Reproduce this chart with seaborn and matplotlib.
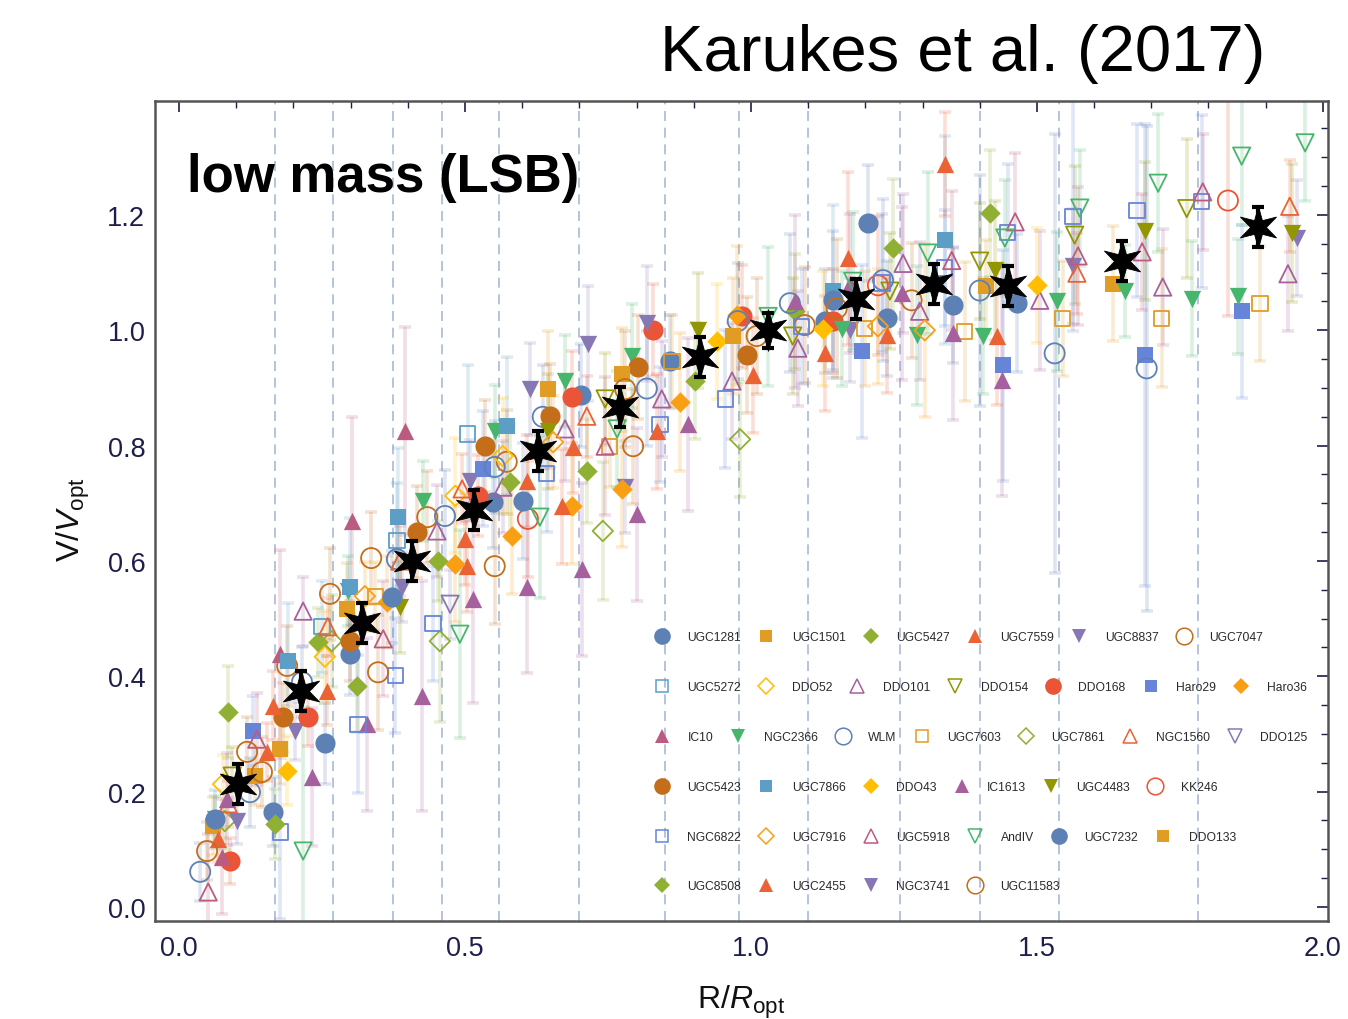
import numpy as np
import pandas as pd
import matplotlib
matplotlib.use("Agg")
import matplotlib.pyplot as plt
import seaborn as sns
from matplotlib.path import Path
from matplotlib.lines import Line2D
from matplotlib.ticker import MultipleLocator

# ---------------- data (R/Ropt, V/Vopt, error) ----------------
r_UGC1281 = [0.164, 0.299, 0.549, 0.703, 0.858, 1.129, 1.238, 1.353, 1.465]
v_UGC1281 = [0.165, 0.438, 0.702, 0.887, 0.946, 1.016, 1.021, 1.043, 1.047]
e_UGC1281 = [0.06, 0.07, 0.08, 0.09, 0.08, 0.09, 0.10, 0.10, 0.12]

r_UGC1501 = [0.059, 0.177, 0.294, 0.645, 1.411, 1.633]
v_UGC1501 = [0.140, 0.274, 0.517, 0.898, 1.076, 1.081]
e_UGC1501 = [0.05, 0.06, 0.08, 0.10, 0.08, 0.10]

r_UGC5427 = [0.086, 0.243, 0.453, 0.713, 0.902, 1.077, 1.248, 1.418]
v_UGC5427 = [0.338, 0.459, 0.600, 0.756, 0.912, 1.033, 1.142, 1.203]
e_UGC5427 = [0.08, 0.06, 0.07, 0.09, 0.10, 0.10, 0.12, 0.11]

r_UGC7559 = [0.068, 0.259, 0.503, 0.689, 1.003, 1.238, 1.430]
v_UGC7559 = [0.118, 0.375, 0.591, 0.798, 0.922, 0.991, 0.990]
e_UGC7559 = [0.04, 0.06, 0.08, 0.08, 0.10, 0.10, 0.12]

r_UGC8837 = [0.203, 0.509, 0.780, 1.173, 1.563, 1.955]
v_UGC8837 = [0.305, 0.739, 0.728, 1.000, 1.111, 1.160]
e_UGC8837 = [0.05, 0.07, 0.08, 0.09, 0.10, 0.10]

r_UGC7047 = [0.119, 0.189, 0.336, 0.434, 0.573, 0.794, 1.094, 1.281]
v_UGC7047 = [0.269, 0.418, 0.605, 0.676, 0.772, 0.799, 1.009, 1.052]
e_UGC7047 = [0.06, 0.07, 0.08, 0.08, 0.09, 0.10, 0.10, 0.10]

r_UGC5272 = [0.250, 0.381, 0.505]
v_UGC5272 = [0.486, 0.635, 0.820]
e_UGC5272 = [0.08, 0.10, 0.12]

r_DDO52 = [0.077, 0.255, 0.483, 0.566]
v_DDO52 = [0.213, 0.434, 0.713, 0.782]
e_DDO52 = [0.05, 0.08, 0.10, 0.10]

r_DDO101 = [0.217, 0.451, 0.566, 0.675, 0.844, 0.967, 1.082, 1.266, 1.295, 1.505, 1.720, 1.939]
v_DDO101 = [0.513, 0.652, 0.728, 0.829, 0.881, 0.912, 0.969, 1.116, 1.033, 1.052, 1.075, 1.098]
e_DDO101 = [0.06, 0.08, 0.08, 0.09, 0.10, 0.10, 0.10, 0.12, 0.12, 0.12, 0.10, 0.10]

r_DDO154 = [0.093, 0.745, 1.073, 1.243, 1.400, 1.566, 1.762]
v_DDO154 = [0.227, 0.881, 0.990, 1.068, 1.120, 1.165, 1.211]
e_DDO154 = [0.05, 0.08, 0.10, 0.10, 0.10, 0.12, 0.12]

r_DDO168 = [0.089, 0.226, 0.523, 0.687, 0.829, 0.984, 1.143]
v_DDO168 = [0.080, 0.329, 0.713, 0.884, 1.000, 1.024, 1.016]
e_DDO168 = [0.04, 0.05, 0.07, 0.08, 0.08, 0.09, 0.09]

r_Haro29 = [0.129, 0.531, 1.194, 1.441, 1.689, 1.858]
v_Haro29 = [0.305, 0.760, 0.964, 0.939, 0.957, 1.033]
e_Haro29 = [0.06, 0.10, 0.15, 0.20, 0.40, 0.15]

r_Haro36 = [0.364, 0.483, 0.582, 0.687, 0.774, 0.876, 0.976]
v_Haro36 = [0.529, 0.595, 0.643, 0.695, 0.725, 0.876, 1.026]
e_Haro36 = [0.08, 0.10, 0.10, 0.10, 0.10, 0.12, 0.12]

r_IC10 = [0.075, 0.177, 0.302, 0.395]
v_IC10 = [0.087, 0.439, 0.669, 0.825]
e_IC10 = [0.10, 0.18, 0.18, 0.18]

r_NGC2366 = [0.063, 0.295, 0.427, 0.552, 0.675, 0.792, 1.159, 1.290, 1.406, 1.535, 1.654, 1.771, 1.851]
v_NGC2366 = [0.153, 0.548, 0.704, 0.825, 0.912, 0.955, 1.003, 0.991, 0.990, 1.050, 1.068, 1.055, 1.059]
e_NGC2366 = [0.04, 0.06, 0.07, 0.08, 0.08, 0.09, 0.10, 0.12, 0.10, 0.12, 0.08, 0.10, 0.10]

r_WLM = [0.037, 0.124, 0.215, 0.381, 0.465, 0.552, 0.636, 0.818, 0.977, 1.068, 1.231, 1.400, 1.531, 1.692]
v_WLM = [0.061, 0.199, 0.390, 0.603, 0.678, 0.763, 0.850, 0.899, 1.016, 1.047, 1.087, 1.069, 0.960, 0.934]
e_WLM = [0.05, 0.06, 0.06, 0.07, 0.08, 0.08, 0.09, 0.10, 0.10, 0.12, 0.14, 0.20, 0.38, 0.42]

r_UGC7603 = [0.343, 0.753, 0.862, 1.199, 1.374, 1.545, 1.718, 1.890]
v_UGC7603 = [0.539, 0.798, 0.946, 1.003, 0.998, 1.021, 1.021, 1.047]
e_UGC7603 = [0.06, 0.07, 0.08, 0.10, 0.12, 0.10, 0.12, 0.10]

r_UGC7861 = [0.080, 0.267, 0.456, 0.741, 0.981]
v_UGC7861 = [0.149, 0.461, 0.461, 0.652, 0.811]
e_UGC7861 = [0.05, 0.08, 0.14, 0.12, 0.10]

r_NGC1560 = [0.086, 0.260, 0.386, 0.495, 0.713, 1.570, 1.942]
v_NGC1560 = [0.179, 0.486, 0.600, 0.725, 0.851, 1.099, 1.215]
e_NGC1560 = [0.04, 0.05, 0.06, 0.06, 0.07, 0.07, 0.08]

r_DDO125 = [0.474]
v_DDO125 = [0.525]
e_DDO125 = [0.06]

r_UGC5423 = [0.182, 0.299, 0.416, 0.535, 0.649, 0.802, 0.993]
v_UGC5423 = [0.329, 0.461, 0.650, 0.799, 0.851, 0.937, 0.957]
e_UGC5423 = [0.06, 0.07, 0.08, 0.08, 0.09, 0.09, 0.10]

r_UGC7866 = [0.191, 0.299, 0.383, 0.573, 1.143, 1.339]
v_UGC7866 = [0.427, 0.555, 0.676, 0.834, 1.068, 1.157]
e_UGC7866 = [0.10, 0.12, 0.12, 0.12, 0.15, 0.18]

r_DDO43 = [0.189, 0.941, 1.126, 1.500]
v_DDO43 = [0.236, 0.981, 1.003, 1.078]
e_DDO43 = [0.06, 0.10, 0.10, 0.10]

r_IC1613 = [0.084, 0.233, 0.329, 0.425, 0.514, 0.608, 0.705, 0.800, 0.890, 1.077, 1.173, 1.264, 1.353, 1.439]
v_IC1613 = [0.187, 0.225, 0.317, 0.366, 0.534, 0.555, 0.586, 0.681, 0.837, 1.050, 1.081, 1.064, 0.995, 0.913]
e_IC1613 = [0.08, 0.12, 0.15, 0.20, 0.18, 0.15, 0.15, 0.15, 0.15, 0.15, 0.12, 0.15, 0.15, 0.20]

r_UGC4483 = [0.386, 0.645, 0.907, 1.427, 1.689, 1.946]
v_UGC4483 = [0.520, 0.825, 1.000, 1.104, 1.172, 1.169]
e_UGC4483 = [0.08, 0.10, 0.10, 0.12, 0.12, 0.12]

r_KK246 = [0.610, 1.222, 1.834]
v_KK246 = [0.673, 1.078, 1.225]
e_KK246 = [0.10, 0.12, 0.20]

r_NGC6822 = [0.177, 0.313, 0.378, 0.444, 0.643, 0.841, 0.955, 1.089, 1.229, 1.339, 1.449, 1.563, 1.675, 1.788]
v_NGC6822 = [0.130, 0.317, 0.401, 0.491, 0.751, 0.837, 0.881, 1.007, 1.082, 1.108, 1.169, 1.198, 1.208, 1.224]
e_NGC6822 = [0.15, 0.12, 0.10, 0.10, 0.10, 0.10, 0.12, 0.10, 0.12, 0.10, 0.12, 0.20, 0.15, 0.15]

r_UGC7916 = [0.325, 0.654, 1.222, 1.304]
v_UGC7916 = [0.539, 0.806, 1.007, 1.000]
e_UGC7916 = [0.06, 0.08, 0.10, 0.15]

r_UGC5918 = [0.051, 0.136, 0.357, 0.745, 1.351, 1.462, 1.572, 1.684, 1.790]
v_UGC5918 = [0.026, 0.291, 0.465, 0.799, 1.121, 1.188, 1.129, 1.136, 1.240]
e_UGC5918 = [0.10, 0.08, 0.10, 0.12, 0.12, 0.12, 0.12, 0.10, 0.10]

r_AndIV = [0.217, 0.491, 0.631, 0.766, 1.030, 1.178, 1.309, 1.444, 1.575, 1.712, 1.858, 1.969]
v_AndIV = [0.097, 0.473, 0.676, 0.829, 1.024, 1.085, 1.134, 1.160, 1.212, 1.255, 1.302, 1.325]
e_AndIV = [0.25, 0.18, 0.14, 0.10, 0.12, 0.12, 0.14, 0.10, 0.10, 0.12, 0.12, 0.10]

r_UGC7232 = [0.063, 0.255, 0.372, 0.601, 1.143, 1.205]
v_UGC7232 = [0.153, 0.284, 0.538, 0.704, 1.052, 1.186]
e_UGC7232 = [0.05, 0.07, 0.08, 0.10, 0.12, 0.10]

r_DDO133 = [0.133, 0.774, 0.969]
v_DDO133 = [0.227, 0.924, 0.990]
e_DDO133 = [0.05, 0.08, 0.10]

r_UGC8508 = [0.168, 0.311, 0.579]
v_UGC8508 = [0.144, 0.383, 0.737]
e_UGC8508 = [0.06, 0.08, 0.10]

r_UGC2455 = [0.154, 0.164, 0.500, 0.608, 0.670, 0.836, 1.129, 1.170, 1.339]
v_UGC2455 = [0.269, 0.349, 0.638, 0.739, 0.695, 0.825, 0.960, 1.125, 1.288]
e_UGC2455 = [0.05, 0.06, 0.08, 0.08, 0.10, 0.10, 0.10, 0.15, 0.09]

r_NGC3741 = [0.101, 0.390, 0.614, 0.715, 0.818]
v_NGC3741 = [0.149, 0.555, 0.898, 0.977, 1.012]
e_NGC3741 = [0.04, 0.06, 0.08, 0.10, 0.10]

r_UGC11583 = [0.049, 0.145, 0.264, 0.348, 0.552, 0.780, 1.010, 1.150]
v_UGC11583 = [0.097, 0.234, 0.543, 0.407, 0.591, 0.898, 0.990, 1.038]
e_UGC11583 = [0.05, 0.06, 0.08, 0.10, 0.10, 0.10, 0.10, 0.12]

# binned average (black stars)
star_r = [0.103, 0.213, 0.320, 0.407, 0.516, 0.628, 0.771, 0.911, 1.030, 1.184, 1.320, 1.449, 1.649, 1.886]
star_v = [0.213, 0.375, 0.492, 0.600, 0.688, 0.791, 0.867, 0.954, 1.000, 1.054, 1.080, 1.077, 1.120, 1.179]
star_e = [0.035, 0.035, 0.035, 0.035, 0.035, 0.035, 0.035, 0.035, 0.030, 0.035, 0.035, 0.035, 0.035, 0.035]

# bin edges (dashed lines)
bin_edges = [0.168, 0.269, 0.374, 0.460, 0.559, 0.699, 0.850, 0.979, 1.100, 1.260, 1.400, 1.538, 1.781]

galaxies = ["UGC1281", "UGC1501", "UGC5427", "UGC7559", "UGC8837", "UGC7047",
            "UGC5272", "DDO52", "DDO101", "DDO154", "DDO168", "Haro29", "Haro36",
            "IC10", "NGC2366", "WLM", "UGC7603", "UGC7861", "NGC1560", "DDO125",
            "UGC5423", "UGC7866", "DDO43", "IC1613", "UGC4483", "KK246",
            "NGC6822", "UGC7916", "UGC5918", "AndIV", "UGC7232", "DDO133",
            "UGC8508", "UGC2455", "NGC3741", "UGC11583"]

x_ticks = [0.0, 0.5, 1.0, 1.5, 2.0]
x_tick_labels = ["0.0", "0.5", "1.0", "1.5", "2.0"]
y_ticks = [0.0, 0.2, 0.4, 0.6, 0.8, 1.0, 1.2]
y_tick_labels = ["0.0", "0.2", "0.4", "0.6", "0.8", "1.0", "1.2"]

# ---------------- build table ----------------
g = globals()
rows = []
for name in galaxies:
    for rr, vv, ee in zip(g["r_" + name], g["v_" + name], g["e_" + name]):
        rows.append((name, rr, vv, ee))
df = pd.DataFrame(rows, columns=["galaxy", "r", "v", "err"])

# ---------------- styles ----------------
palette15 = ["#5E81B5", "#E19C24", "#8FB032", "#EB6235", "#8778B3", "#C56E1A",
             "#5D9EC7", "#FFBF00", "#A5609D", "#929600", "#E95536", "#6685D9",
             "#F89F13", "#BC5B80", "#47B66D"]
shapes = ["o", "s", "D", "^", "v"]
scatter_size = {"o": 210, "s": 120, "D": 108, "^": 155, "v": 155}
legend_ms = {"o": 12, "s": 8.3, "D": 8.3, "^": 10, "v": 10}

sns.set_theme(style="white")
plt.rcParams["font.family"] = ["Liberation Sans", "DejaVu Sans"]
plt.rcParams["mathtext.fontset"] = "custom"
plt.rcParams["mathtext.rm"] = "Liberation Sans"
plt.rcParams["mathtext.it"] = "Liberation Sans:italic"
plt.rcParams["mathtext.bf"] = "Liberation Sans:bold"

fig = plt.figure(figsize=(13.48, 10.20), dpi=100)
ax = fig.add_axes([155 / 1348, 1 - 922 / 1020, (1328 - 155) / 1348, (922 - 102) / 1020])
ax.set_xlim(-0.042, 2.009)
ax.set_ylim(-0.0243, 1.3976)

for xe in bin_edges:
    ax.axvline(xe, color="#A9B9D8", lw=1.2, ls=(0, (6, 4)), zorder=0.5)

styles = {}
for i, name in enumerate(galaxies):
    styles[name] = (palette15[i % 15], shapes[i % 5], (i % 10) < 5)

# error bars
for name in galaxies:
    c, m, filled = styles[name]
    sub = df[df.galaxy == name]
    ax.errorbar(sub.r, sub.v, yerr=sub.err, fmt="none", ecolor=c, alpha=0.2,
                elinewidth=2.6, capsize=4.5, capthick=2.6, zorder=1)

# markers
for name in galaxies:
    c, m, filled = styles[name]
    sub = df[df.galaxy == name]
    if filled:
        sns.scatterplot(data=sub, x="r", y="v", marker=m, s=scatter_size[m], color=c,
                        edgecolor=c, linewidth=0, ax=ax, legend=False, zorder=3)
    else:
        sns.scatterplot(data=sub, x="r", y="v", marker=m, s=scatter_size[m], color=c,
                        facecolor="none", edgecolor=c, linewidth=1.3, ax=ax,
                        legend=False, zorder=3)

# black stars
star_path = Path.unit_regular_star(6, innerCircle=0.38)
ax.errorbar(star_r, star_v, yerr=star_e, fmt="none", ecolor="black", elinewidth=3,
            capsize=4.5, capthick=3, zorder=6)
sns.scatterplot(x=star_r, y=star_v, marker=star_path, s=900, color="black",
                edgecolor="black", linewidth=0.6, ax=ax, legend=False, zorder=7)

# axes cosmetics
ax.set_xticks(x_ticks)
ax.set_xticklabels(x_tick_labels)
ax.set_yticks(y_ticks)
ax.set_yticklabels(y_tick_labels)
ax.xaxis.set_minor_locator(MultipleLocator(0.1))
ax.yaxis.set_minor_locator(MultipleLocator(0.05))
tick_col = "#1E1E4A"
ax.tick_params(which="both", direction="in", top=True, right=True, color=tick_col,
               labelcolor=tick_col, labelsize=19.5)
ax.tick_params(which="major", length=8, width=1.2)
ax.tick_params(which="minor", length=5, width=1.0)
ax.tick_params(axis="x", which="major", pad=10)
ax.tick_params(axis="y", which="major", pad=7)
for sp in ax.spines.values():
    sp.set_color("#555555")
    sp.set_linewidth(1.8)
ax.grid(False)

ax.set_xlabel(r"R/$R_{\mathrm{opt}}$", fontsize=23, color="#111111")
ax.set_ylabel(r"V/$V_{\mathrm{opt}}$", fontsize=23, color="#111111")
ax.xaxis.set_label_coords(0.5, -0.075)
ax.yaxis.set_label_coords(-0.054, 0.49)

ax.text(0.0273, 0.890, "low mass (LSB)", transform=ax.transAxes, fontsize=38,
        fontweight="bold", va="baseline", ha="left", color="black")
fig.text(1265 / 1348, 1 - 71 / 1020, "Karukes et al. (2017)", ha="right",
         va="baseline", fontsize=47, color="black")

# legend: flowing rows
legend_rows = [galaxies[0:6], galaxies[6:13], galaxies[13:20], galaxies[20:26],
               galaxies[26:32], galaxies[32:36]]
row_y = [638, 688, 738, 788, 838, 887]
for names, yp in zip(legend_rows, row_y):
    handles = []
    for name in names:
        c, m, filled = styles[name]
        handles.append(Line2D([], [], ls="none", marker=m, ms=legend_ms[m],
                              mfc=c if filled else "none", mec=c,
                              mew=0 if filled else 1.1))
    fig.legend(handles, names, loc="center left", ncol=len(names),
               bbox_to_anchor=(656 / 1348, 1 - yp / 1020), frameon=False,
               fontsize=8.7, handlelength=1.0, handletextpad=1.6,
               columnspacing=1.58, borderpad=0, borderaxespad=0,
               labelcolor="#2A2A2A")

fig.savefig("out.png", dpi=100, facecolor="white")
